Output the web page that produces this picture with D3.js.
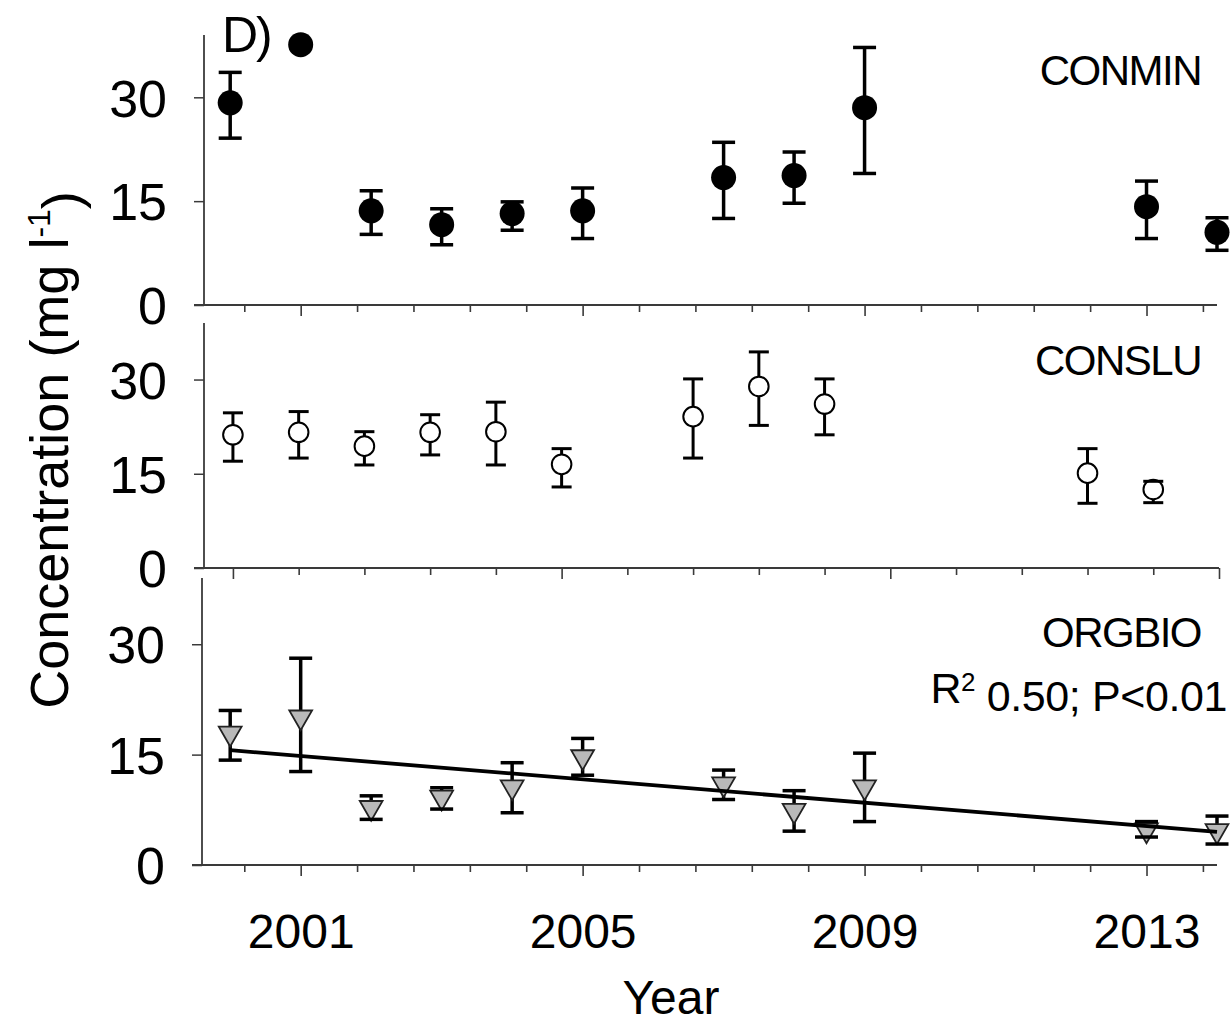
<!DOCTYPE html>
<html>
<head>
<meta charset="utf-8">
<script src="https://cdn.jsdelivr.net/npm/d3@7"></script>
<style>
  body { margin: 0; background: #fff; }
  svg { display: block; font-family: "Liberation Sans", Arial, Helvetica, sans-serif; }
</style>
</head>
<body>
<svg id="chart" width="1231" height="1025"></svg>
<script>
// ---- data (mg l-1, mean with error bar ends) ----
var conminYear = [2000, 2001, 2002, 2003, 2004, 2005, 2007, 2008, 2009, 2013, 2014];
var conminMean = [29.2, 37.6, 13.6, 11.6, 13.2, 13.6, 18.4, 18.7, 28.5, 14.2, 10.5];
var conminLow  = [24.1, 37.6, 10.2, 8.7, 10.8, 9.6, 12.5, 14.7, 19.0, 9.6, 7.9];
var conminHigh = [33.6, 37.6, 16.5, 13.9, 14.9, 16.9, 23.5, 22.1, 37.2, 17.9, 12.6];

// CONSLU is plotted against sampling campaign number (its own axis)
var consluCampaign = [0, 1, 2, 3, 4, 5, 7, 8, 9, 13, 14];
var consluMean = [21.2, 21.6, 19.4, 21.6, 21.7, 16.5, 24.1, 28.9, 26.1, 15.1, 12.5];
var consluLow  = [17.0, 17.5, 16.4, 18.0, 16.4, 12.9, 17.5, 22.7, 21.2, 10.3, 10.4];
var consluHigh = [24.7, 24.9, 21.7, 24.4, 26.4, 19.0, 30.1, 34.4, 30.1, 19.0, 13.8];

var orgbioYear = [2000, 2001, 2002, 2003, 2004, 2005, 2007, 2008, 2009, 2013, 2014];
var orgbioMean = [17.9, 20.1, 7.8, 9.2, 10.6, 14.7, 11.0, 7.4, 10.6, 4.75, 4.65];
var orgbioLow  = [14.25, 12.7, 6.2, 7.6, 7.1, 12.2, 8.9, 4.6, 5.9, 3.8, 2.85];
var orgbioHigh = [21.0, 28.1, 9.4, 10.5, 13.9, 17.2, 12.9, 10.1, 15.2, 5.9, 6.65];

// linear fit shown on ORGBIO
var trendYear  = [2000, 2014];
var trendValue = [15.6, 4.5];

var yTickValues = [0, 15, 30];
var yearLabels = [2001, 2005, 2009, 2013];
var yearTicks = d3.range(0, 18).map(function(k){ return 2000.2 + 0.8 * k; });
var campaignTicks = d3.range(0, 16);
var campaignMajor = [0, 5, 10, 15];

var svg = d3.select("#chart");
var axisColor = "#3a3a3a";

var yearScale = d3.scaleLinear().domain([1999.6, 2014]).range([202, 1217]);
var campaignScale = d3.scaleLinear().domain([-0.44, 15]).range([204, 1219]);

function zip(xs, m, lo, hi){
  return xs.map(function(x, i){ return {x: x, m: m[i], lo: lo[i], hi: hi[i]}; });
}

var panels = [
  {name: "CONMIN", x: yearScale, ticks: yearTicks, major: yearLabels,
   data: zip(conminYear, conminMean, conminLow, conminHigh),
   top: 35, bottom: 305, left: 204, right: 1217, cap: 23, bw: 3.5,
   marker: "filled", labelY: 85},
  {name: "CONSLU", x: campaignScale, ticks: campaignTicks, major: campaignMajor,
   data: zip(consluCampaign, consluMean, consluLow, consluHigh),
   top: 323, bottom: 568, left: 204, right: 1219, cap: 20, bw: 3,
   marker: "open", labelY: 375},
  {name: "ORGBIO", x: yearScale, ticks: yearTicks, major: yearLabels,
   data: zip(orgbioYear, orgbioMean, orgbioLow, orgbioHigh),
   top: 578, bottom: 865, left: 202, right: 1217, cap: 23, bw: 3.5,
   marker: "triangle", labelY: 647}
];

function isMajor(list, d){
  return list.some(function(v){ return Math.abs(v - d) < 0.01; });
}

panels.forEach(function(p){
  var y = d3.scaleLinear().domain([0, 39]).range([p.bottom, p.top]);
  p.y = y;
  var g = svg.append("g");

  // y axis
  var ya = g.append("g").attr("transform", "translate(" + p.left + ",0)")
    .attr("color", axisColor)
    .call(d3.axisLeft(y).tickValues(yTickValues).tickSize(10).tickSizeOuter(0));
  ya.select(".domain").remove();
  ya.selectAll(".tick line").attr("stroke-width", 1.5);
  ya.selectAll(".tick text")
    .attr("x", -37).attr("dy", "0.36em")
    .attr("fill", "#000").style("font-size", "52px").style("font-family", "inherit");
  g.append("line")
    .attr("x1", p.left).attr("x2", p.left).attr("y1", p.top).attr("y2", p.bottom)
    .attr("stroke", axisColor).attr("stroke-width", 1.8);

  // x axis (ticks only, labels drawn separately at the bottom)
  var xa = g.append("g").attr("transform", "translate(0," + p.bottom + ")")
    .attr("color", axisColor)
    .call(d3.axisBottom(p.x).tickValues(p.ticks).tickSize(7).tickFormat(""));
  xa.select(".domain").remove();
  xa.selectAll(".tick line")
    .attr("y2", function(d){ return isMajor(p.major, d) ? 11 : 7; })
    .attr("stroke-width", 1.6);
  g.append("line")
    .attr("x1", p.left - 10).attr("x2", p.right).attr("y1", p.bottom).attr("y2", p.bottom)
    .attr("stroke", axisColor).attr("stroke-width", 1.8);

  var pts = p.data;
  // error bar stems (under markers)
  g.selectAll(".stem").data(pts.filter(function(d){ return d.hi > d.lo; }))
    .enter().append("line")
    .attr("x1", function(d){ return p.x(d.x); }).attr("x2", function(d){ return p.x(d.x); })
    .attr("y1", function(d){ return y(d.lo); }).attr("y2", function(d){ return y(d.hi); })
    .attr("stroke", "#000").attr("stroke-width", p.bw);

  // markers
  if (p.marker === "filled") {
    g.selectAll(".pt").data(pts).enter().append("circle")
      .attr("cx", function(d){ return p.x(d.x); }).attr("cy", function(d){ return y(d.m); })
      .attr("r", 12.5).attr("fill", "#000");
  } else if (p.marker === "open") {
    g.selectAll(".pt").data(pts).enter().append("circle")
      .attr("cx", function(d){ return p.x(d.x); }).attr("cy", function(d){ return y(d.m); })
      .attr("r", 9.8).attr("fill", "#fff").attr("stroke", "#000").attr("stroke-width", 2);
  } else {
    var tri = d3.symbol().type(d3.symbolTriangle).size(225);
    g.selectAll(".pt").data(pts).enter().append("path")
      .attr("d", tri)
      .attr("transform", function(d){ return "translate(" + p.x(d.x) + "," + y(d.m) + ") rotate(180)"; })
      .attr("fill", "#b9b9b9").attr("stroke", "#222").attr("stroke-width", 1.8);
  }

  // caps (drawn over the markers)
  var capPts = [];
  pts.forEach(function(d){
    if (d.hi > d.lo) { capPts.push({x: d.x, v: d.lo}); capPts.push({x: d.x, v: d.hi}); }
  });
  g.selectAll(".cap").data(capPts).enter().append("line")
    .attr("x1", function(d){ return p.x(d.x) - p.cap / 2; })
    .attr("x2", function(d){ return p.x(d.x) + p.cap / 2; })
    .attr("y1", function(d){ return y(d.v); }).attr("y2", function(d){ return y(d.v); })
    .attr("stroke", "#000").attr("stroke-width", p.bw);

  // panel name
  g.append("text").attr("x", 1201).attr("y", p.labelY)
    .attr("text-anchor", "end").style("font-size", "42px").style("letter-spacing", "-1.5px")
    .text(p.name);
});

// regression line on ORGBIO
var bottomPanel = panels[2];
svg.append("path")
  .datum(trendYear.map(function(t, i){ return [t, trendValue[i]]; }))
  .attr("d", d3.line()
    .x(function(d){ return yearScale(d[0]); })
    .y(function(d){ return bottomPanel.y(d[1]); }))
  .attr("fill", "none").attr("stroke", "#000").attr("stroke-width", 3.8);

var stat = svg.append("text").attr("x", 1227).attr("y", 703)
  .attr("text-anchor", "end").style("font-size", "43px").style("letter-spacing", "-0.4px");
stat.append("tspan").text("R");
stat.append("tspan").attr("dy", "-0.45em").style("font-size", "26px").text("2");
stat.append("tspan").attr("dy", "0.45em").text(" 0.50; P<0.01");

// year labels under the bottom panel
var xl = svg.append("g").attr("transform", "translate(0," + bottomPanel.bottom + ")")
  .call(d3.axisBottom(yearScale).tickValues(yearLabels).tickSize(0).tickFormat(d3.format("d")));
xl.select(".domain").remove();
xl.selectAll("text").attr("y", 83).attr("dy", 0).attr("fill", "#000")
  .style("font-size", "48px").style("font-family", "inherit");

// panel tag
svg.append("text").attr("x", 222).attr("y", 52)
  .style("font-size", "50px").style("letter-spacing", "-2px").text("D)");

// axis titles
var yt = svg.append("text").attr("transform", "translate(68,450) rotate(-90)")
  .attr("text-anchor", "middle").style("font-size", "54px");
yt.append("tspan").text("Concentration (mg l");
yt.append("tspan").attr("dy", "-0.55em").style("font-size", "32px").text("-1");
yt.append("tspan").attr("dy", "0.55em").text(")");

svg.append("text").attr("x", 671).attr("y", 1014)
  .attr("text-anchor", "middle").style("font-size", "48px").text("Year");
</script>
</body>
</html>
